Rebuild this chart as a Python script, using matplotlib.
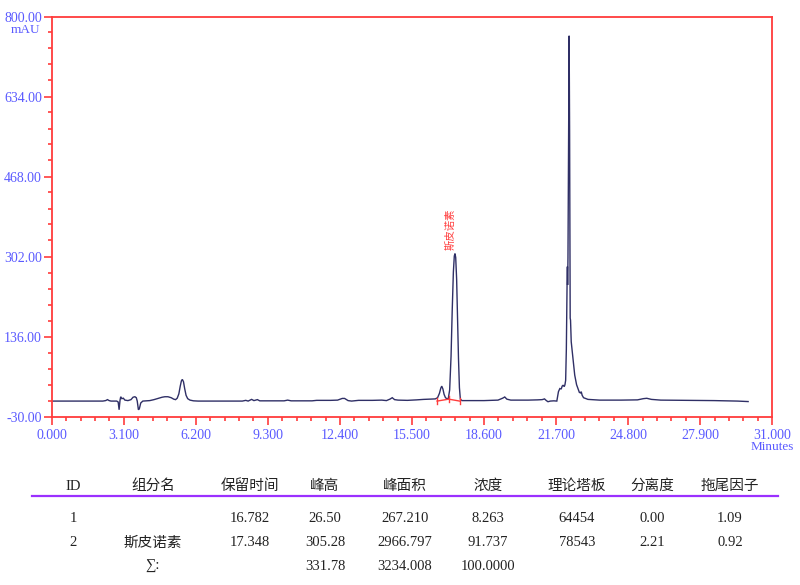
import matplotlib
matplotlib.use("Agg")
import matplotlib.pyplot as plt
from matplotlib.ticker import FixedLocator, MultipleLocator, FormatStrFormatter

# ---------------- data ----------------
time_min = [0.0, 1.0, 2.2, 2.32, 2.40, 2.47, 2.55, 2.80, 2.86, 2.90, 2.94, 2.97, 3.02, 3.08,
            3.15, 3.28, 3.41, 3.50, 3.58, 3.64, 3.68, 3.73, 3.77, 3.83, 3.92, 4.10, 4.22,
            4.40, 4.57, 4.75, 4.87, 5.00, 5.14, 5.25, 5.33, 5.40, 5.47, 5.53, 5.58, 5.62,
            5.67, 5.72, 5.78, 5.85, 5.95, 6.10, 6.30, 8.20, 8.35, 8.45, 8.60, 8.70, 8.85,
            8.95, 10.0, 10.15, 10.3, 11.2, 11.4, 12.0, 12.3, 12.5, 12.6, 12.75, 12.9, 13.2,
            13.8, 14.2, 14.4, 14.55, 14.65, 14.75, 14.9, 15.3, 15.7, 16.0, 16.3, 16.5, 16.6,
            16.68, 16.74, 16.78, 16.83, 16.88, 16.94, 17.00, 17.06, 17.12, 17.18, 17.23,
            17.28, 17.32, 17.35, 17.38, 17.42, 17.46, 17.50, 17.54, 17.58, 17.65, 18.0,
            18.6, 19.2, 19.4, 19.49, 19.58, 19.75, 20.5, 20.9, 21.1, 21.2, 21.28, 21.35,
            21.45, 21.6, 21.73, 21.80, 21.86, 21.92, 21.96, 22.00, 22.05, 22.08, 22.11,
            22.14, 22.17, 22.185, 22.195, 22.21, 22.235, 22.26, 22.28, 22.295, 22.305,
            22.32, 22.35, 22.42, 22.50, 22.58, 22.64, 22.70, 22.75, 22.78, 22.82, 22.88,
            23.07, 23.57, 24.5, 25.2, 25.45, 25.6, 25.8, 26.2, 27.5, 28.5, 29.5, 29.96]
signal_mau = [2.0, 2.0, 2.0, 3.0, 5.0, 3.0, 2.0, 2.0, 0.0, -16.0, 4.0, 11.0, 7.0, 8.0,
              4.0, 3.0, 5.0, 10.0, 11.0, 9.0, 2.0, -16.0, -14.0, -2.0, 2.0, 2.5, 3.0,
              5.0, 7.5, 10.0, 11.0, 11.0, 9.0, 6.0, 5.0, 8.0, 17.0, 33.0, 44.0, 47.0,
              42.0, 28.0, 14.0, 7.0, 4.0, 2.5, 2.0, 2.0, 3.5, 2.0, 5.5, 3.0, 5.0,
              2.5, 2.5, 4.0, 2.5, 2.5, 3.5, 3.5, 4.0, 7.5, 7.5, 3.0, 2.0, 3.5,
              3.5, 4.0, 3.0, 6.0, 9.0, 5.0, 4.0, 3.5, 4.5, 5.5, 6.0, 6.5, 9.0,
              18.0, 29.0, 33.0, 27.0, 16.0, 9.0, 7.0, 7.0, 25.0, 95.0, 190.0,
              270.0, 303.0, 308.0, 300.0, 255.0, 175.0, 90.0, 30.0, 6.0, 3.0, 3.0,
              3.0, 4.0, 8.0, 10.5, 6.0, 4.0, 4.0, 4.5, 5.0, 6.5, 3.0, 0.7,
              2.0, 2.5, 2.0, 21.5, 28.0, 27.0, 33.0, 35.0, 32.0, 36.0, 45.0,
              110.0, 240.0, 281.0, 243.0, 300.0, 520.0, 760.0, 560.0, 350.0, 174.0,
              170.0, 125.0, 92.0, 56.0, 36.0, 28.0, 20.0, 19.0, 21.5, 14.0, 9.0,
              5.5, 4.0, 4.0, 4.5, 7.0, 7.8, 5.5, 4.0, 3.5, 3.0, 2.0, 1.0]

y_ticks = [-30.0, 136.0, 302.0, 468.0, 634.0, 800.0]
x_ticks = [0.0, 3.1, 6.2, 9.3, 12.4, 15.5, 18.6, 21.7, 24.8, 27.9, 31.0]

# integration baseline marks (time, value)
base_t = [16.58, 17.08, 17.55]
base_v = [2.0, 6.0, 2.0]

peak_label = "斯皮诺素"
peak_label_t = 17.17
peak_label_v = 316

# results table
headers = ["ID", "组分名", "保留时间", "峰高", "峰面积", "浓度", "理论塔板", "分离度", "拖尾因子"]
row1 = ["1", "", "16.782", "26.50", "267.210", "8.263", "64454", "0.00", "1.09"]
row2 = ["2", "斯皮诺素", "17.348", "305.28", "2966.797", "91.737", "78543", "2.21", "0.92"]
row_sum = ["", "∑:", "", "331.78", "3234.008", "100.0000", "", "", ""]

# ---------------- figure ----------------
W, H = 800, 585
fig = plt.figure(figsize=(W / 100, H / 100), dpi=100)
fig.patch.set_facecolor("white")

ax_l, ax_r, ax_t, ax_b = 51.7, 772.3, 16.5, 416.5
ax = fig.add_axes([ax_l / W, 1 - ax_b / H, (ax_r - ax_l) / W, (ax_b - ax_t) / H])

red = "#ff3c3c"
blue = "#5a5aff"
numfont = ["Liberation Serif", "Noto Sans CJK SC", "DejaVu Sans"]

ax.plot(time_min, signal_mau, color="#2f2f66", lw=1.0, solid_joinstyle="miter")

# integration baseline in red
ax.plot(base_t, base_v, color=red, lw=1.0)
for bt, bv in zip(base_t, base_v):
    ax.plot([bt, bt], [bv - 6, bv + 6], color=red, lw=1.0)

ax.text(peak_label_t, peak_label_v, peak_label, rotation=90, ha="center", va="bottom",
        color=red, fontsize=7.5, family=["Noto Sans CJK SC", "DejaVu Sans"])

ax.set_xlim(0, 31)
ax.set_ylim(-30, 800)
ax.xaxis.set_major_locator(FixedLocator(x_ticks))
ax.xaxis.set_minor_locator(MultipleLocator(0.62))
ax.yaxis.set_major_locator(FixedLocator(y_ticks))
ax.yaxis.set_minor_locator(FixedLocator([-30 + 33.2 * i for i in range(26)]))
ax.xaxis.set_major_formatter(FormatStrFormatter("%.3f"))
ax.yaxis.set_major_formatter(FormatStrFormatter("%.2f"))

for s in ax.spines.values():
    s.set_color(red)
    s.set_linewidth(1.3)

ax.tick_params(axis="both", which="major", direction="out", length=6, width=1.2,
               color=red, labelcolor=blue, labelsize=10)
ax.tick_params(axis="both", which="minor", direction="out", length=3.2, width=1.2, color=red)
ax.tick_params(axis="x", which="major", pad=3)
ax.tick_params(axis="y", which="major", pad=1)
for lbl in ax.get_xticklabels() + ax.get_yticklabels():
    lbl.set_family(numfont)

fig.text(40 / W, 1 - 30 / H, "mAU", ha="right", va="center", color=blue,
         fontsize=9.5, family=numfont)
fig.text(772 / W, 1 - 447 / H, "Minutes", ha="center", va="center", color=blue,
         fontsize=9.5, family=numfont)

# ---------------- table ----------------
col_x = [73, 153, 250, 325, 405, 488, 577, 652, 730]
rows = [(486, headers), (519, row1), (543, row2), (566, row_sum)]
for y, row in rows:
    for x, txt in zip(col_x, row):
        if txt:
            fig.text(x / W, 1 - y / H, txt, ha="center", va="center", color="#222222",
                     fontsize=10.5, family=numfont)

fig.add_artist(plt.Line2D([32 / W, 778 / W], [1 - 496 / H, 1 - 496 / H],
                          color="#9b30ff", lw=1.6, transform=fig.transFigure))

fig.savefig("out.png", dpi=100)
